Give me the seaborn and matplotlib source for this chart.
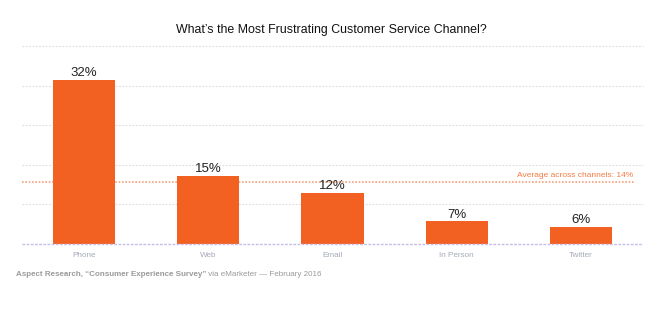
import matplotlib
matplotlib.use("Agg")
import matplotlib.pyplot as plt
import seaborn as sns
import pandas as pd

categories = ["Phone", "Web", "Email", "In Person", "Twitter"]
values = [32, 15, 12, 7, 6]
value_labels = ["32%", "15%", "12%", "7%", "6%"]
average = 14
title = "What\u2019s the Most Frustrating Customer Service Channel?"
avg_label = "Average across channels: 14%"
source_bold = "Aspect Research, \u201cConsumer Experience Survey\u201d"
source_rest = " via eMarketer \u2014 February 2016"

sns.set_theme(style="white")
plt.rcParams['font.family'] = ['Liberation Sans', 'DejaVu Sans']

W, H = 663, 326
fig = plt.figure(figsize=(W / 100, H / 100), dpi=100)
ax = fig.add_axes([22 / W, 1 - 244 / H, (643 - 22) / W, (244 - 46) / H])

df = pd.DataFrame({"channel": categories, "value": values})
sns.barplot(data=df, x="channel", y="value", color="#F26122", saturation=1,
            width=0.5, ax=ax, zorder=3)
for p in ax.patches:
    p.set_edgecolor("none")

ax.set_xlim(-0.5, 4.5)
ax.set_ylim(3, 38)
for yv in [10, 17, 24, 31, 38]:
    ax.axhline(yv, color="#dcdcdc", lw=0.8, ls=(0, (1.5, 1.5)), zorder=1, clip_on=False)
ax.axhline(3, color="#c9bde8", lw=1.0, ls=(0, (2, 1)), zorder=4, clip_on=False)

ax.plot([-0.5, 4.43], [average, average], color="#F7A27A", lw=1.2,
        ls=(0, (1, 1)), zorder=2)
ax.text(4.42, average + 0.55, avg_label, ha="right", va="bottom",
        fontsize=6.0, color="#F47A42")

for i, (v, lab) in enumerate(zip(values, value_labels)):
    ax.text(i, v + 0.15, lab, ha="center", va="bottom", fontsize=9.5,
            color="#222222")

for s in ax.spines.values():
    s.set_visible(False)
ax.set_yticks([])
ax.set_xlabel("")
ax.set_ylabel("")
ax.tick_params(axis="x", length=0, pad=5.5, labelsize=5.9, labelcolor="#a4aab6")

fig.text(0.5, 1 - 30 / H, title, ha="center", va="center", fontsize=8.9,
         color="#111111")

t1 = fig.text(16 / W, 1 - 275 / H, source_bold, ha="left", va="center",
              fontsize=5.8, color="#9a9a9a", fontweight="bold")
fig.canvas.draw()
bb = t1.get_window_extent(renderer=fig.canvas.get_renderer())
fig.text(bb.x1 / W, 1 - 275 / H, source_rest, ha="left", va="center",
         fontsize=5.8, color="#9a9a9a")

fig.savefig("out.png", dpi=100, facecolor="white")
